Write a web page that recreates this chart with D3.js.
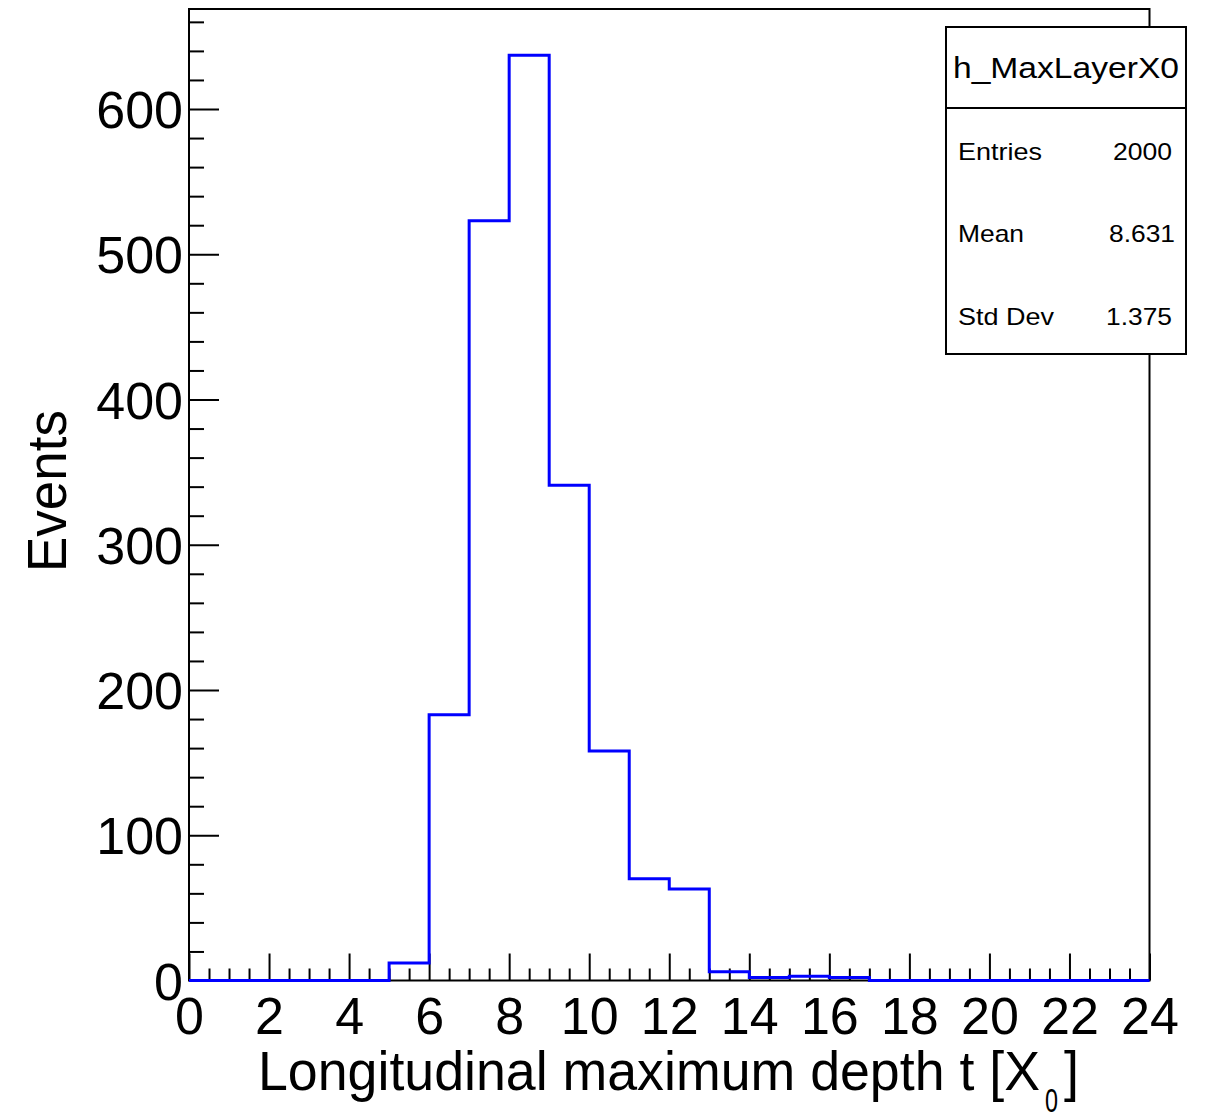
<!DOCTYPE html>
<html>
<head>
<meta charset="utf-8">
<script src="https://cdn.jsdelivr.net/npm/d3@7"></script>
<style>
  html, body { margin: 0; padding: 0; background: #fff; }
  svg { display: block; }
  text { font-family: "Liberation Sans", Arial, Helvetica, sans-serif; fill: #000; }
</style>
</head>
<body>
<svg id="chart" width="1214" height="1119"></svg>
<script>
// Histogram h_MaxLayerX0: unit-wide bins from 0 to 24
const binEdges = d3.range(0, 25);
const binCounts = [0, 0, 0, 0, 0, 12, 183, 523, 637, 341, 158, 70, 63, 6, 2, 3, 2, 0, 0, 0, 0, 0, 0, 0];

const xMajorTicks = d3.range(0, 25, 2);
const xMinorTicks = d3.range(0, 24.01, 0.5).filter(v => v % 2 !== 0);
const yMajorTicks = [0, 100, 200, 300, 400, 500, 600];
const yMinorTicks = d3.range(0, 661, 20).filter(v => v % 100 !== 0);

const statsTitle = "h_MaxLayerX0";
const statsLabels = ["Entries", "Mean", "Std Dev"];
const statsValues = ["2000", "8.631", "1.375"];

const xTitle = "Longitudinal maximum depth t [X";
const xTitleSub = "0";
const yTitle = "Events";

const svg = d3.select("#chart");

const frame = { left: 189, right: 1149.5, top: 9, bottom: 980.5 };
const yMax = 1.05 * d3.max(binCounts);

const x = d3.scaleLinear().domain([0, 24]).range([frame.left, frame.right]);
const y = d3.scaleLinear().domain([0, yMax]).range([frame.bottom, frame.top]);

// frame
svg.append("rect")
  .attr("x", frame.left).attr("y", frame.top)
  .attr("width", frame.right - frame.left).attr("height", frame.bottom - frame.top)
  .attr("fill", "none").attr("stroke", "#000").attr("stroke-width", 2);

// x axis: major ticks with labels, minor ticks without
const xAxisMajor = svg.append("g")
  .attr("transform", `translate(0,${frame.bottom})`)
  .call(d3.axisBottom(x).tickValues(xMajorTicks).tickSizeInner(-27).tickSizeOuter(0).tickFormat(d3.format("d")));
xAxisMajor.select(".domain").remove();
xAxisMajor.selectAll(".tick line").attr("stroke", "#000").attr("stroke-width", 2);
xAxisMajor.selectAll(".tick text")
  .attr("y", 53).attr("dy", null)
  .style("font-size", "52px")
  .style("font-family", "'Liberation Sans', Arial, sans-serif")
  .attr("fill", "#000");

const xAxisMinor = svg.append("g")
  .attr("transform", `translate(0,${frame.bottom})`)
  .call(d3.axisBottom(x).tickValues(xMinorTicks).tickSizeInner(-12).tickSizeOuter(0).tickFormat(""));
xAxisMinor.select(".domain").remove();
xAxisMinor.selectAll(".tick line").attr("stroke", "#000").attr("stroke-width", 2);

// y axis
const yAxisMajor = svg.append("g")
  .attr("transform", `translate(${frame.left},0)`)
  .call(d3.axisLeft(y).tickValues(yMajorTicks).tickSizeInner(-30).tickSizeOuter(0).tickPadding(6).tickFormat(d3.format("d")));
yAxisMajor.select(".domain").remove();
yAxisMajor.selectAll(".tick line").attr("stroke", "#000").attr("stroke-width", 2);
yAxisMajor.selectAll(".tick text")
  .attr("dy", "0.36em")
  .style("font-size", "52px")
  .style("font-family", "'Liberation Sans', Arial, sans-serif")
  .attr("fill", "#000");

const yAxisMinor = svg.append("g")
  .attr("transform", `translate(${frame.left},0)`)
  .call(d3.axisLeft(y).tickValues(yMinorTicks).tickSizeInner(-15).tickSizeOuter(0).tickFormat(""));
yAxisMinor.select(".domain").remove();
yAxisMinor.selectAll(".tick line").attr("stroke", "#000").attr("stroke-width", 2);

// histogram outline
const pts = [];
pts.push([binEdges[0], 0]);
binCounts.forEach((c, i) => {
  pts.push([binEdges[i], c]);
  pts.push([binEdges[i + 1], c]);
});
pts.push([binEdges[binEdges.length - 1], 0]);
svg.append("path")
  .attr("d", d3.line().x(d => x(d[0])).y(d => y(d[1]))(pts))
  .attr("fill", "none")
  .attr("stroke", "#0000ff")
  .attr("stroke-width", 3)
  .attr("stroke-linejoin", "miter");

// axis titles
const xt = svg.append("text")
  .attr("y", 1090)
  .style("font-size", "56px");
xt.append("tspan").attr("x", 258)
  .attr("textLength", 782).attr("lengthAdjust", "spacingAndGlyphs")
  .text(xTitle);
xt.append("tspan").attr("x", 1045).attr("dy", 22)
  .attr("textLength", 13).attr("lengthAdjust", "spacingAndGlyphs")
  .style("font-size", "34px").text(xTitleSub);
xt.append("tspan").attr("x", 1064).attr("dy", -22)
  .attr("textLength", 15).attr("lengthAdjust", "spacingAndGlyphs")
  .text("]");

svg.append("text")
  .attr("transform", "translate(66,491) rotate(-90)")
  .attr("text-anchor", "middle")
  .attr("textLength", 162)
  .attr("lengthAdjust", "spacingAndGlyphs")
  .style("font-size", "56px")
  .text(yTitle);

// statistics box
const box = { x: 946, y: 27, w: 240, h: 327, sep: 108 };
const stats = svg.append("g");
stats.append("rect")
  .attr("x", box.x).attr("y", box.y).attr("width", box.w).attr("height", box.h)
  .attr("fill", "#fff").attr("stroke", "#000").attr("stroke-width", 2);
stats.append("line")
  .attr("x1", box.x).attr("x2", box.x + box.w)
  .attr("y1", box.sep).attr("y2", box.sep)
  .attr("stroke", "#000").attr("stroke-width", 2);
stats.append("text")
  .attr("x", box.x + box.w / 2).attr("y", 78)
  .attr("text-anchor", "middle")
  .attr("textLength", 226)
  .attr("lengthAdjust", "spacingAndGlyphs")
  .style("font-size", "30px")
  .text(statsTitle);

const rowBaselines = [160, 242, 325];
const labelWidths = [84, 66, 96];
const valueWidths = [59, 66, 66];
const valueRight = [1172, 1175, 1172];
statsLabels.forEach((lab, i) => {
  stats.append("text")
    .attr("x", 958).attr("y", rowBaselines[i])
    .attr("textLength", labelWidths[i])
    .attr("lengthAdjust", "spacingAndGlyphs")
    .style("font-size", "24px")
    .text(lab);
  stats.append("text")
    .attr("x", valueRight[i] - valueWidths[i]).attr("y", rowBaselines[i])
    .attr("textLength", valueWidths[i])
    .attr("lengthAdjust", "spacingAndGlyphs")
    .style("font-size", "24px")
    .text(statsValues[i]);
});
</script>
</body>
</html>
